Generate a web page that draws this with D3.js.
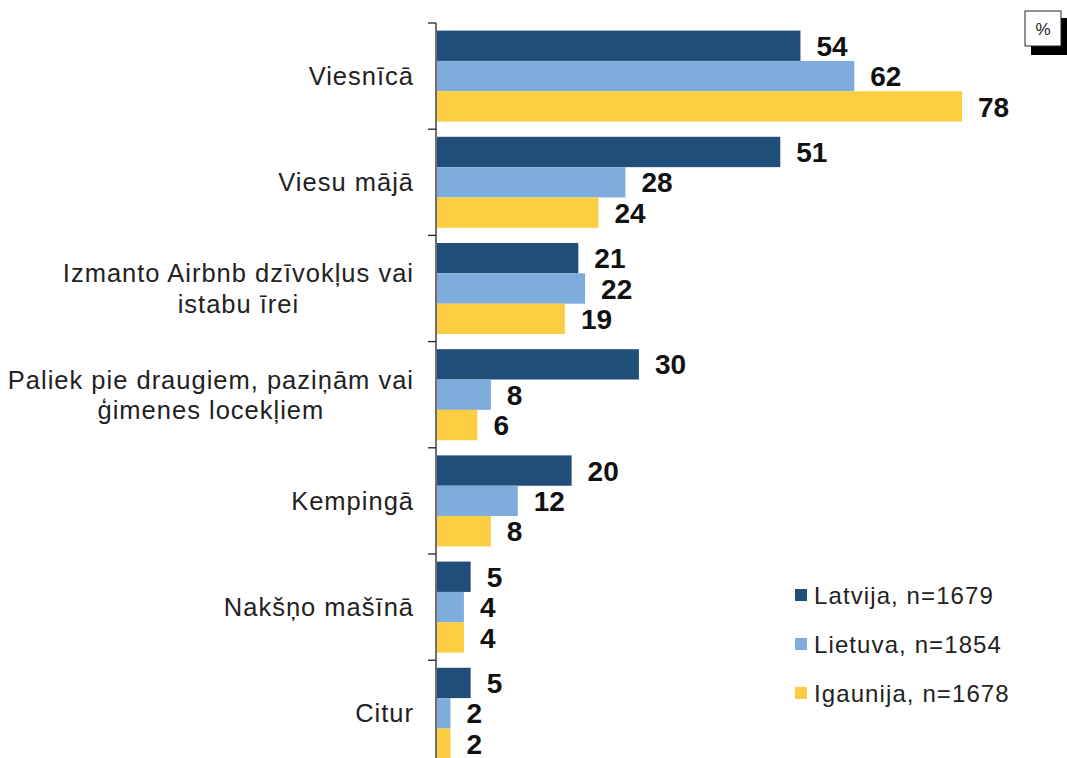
<!DOCTYPE html>
<html><head><meta charset="utf-8">
<script src="https://cdn.jsdelivr.net/npm/d3@7"></script>
<style>body{margin:0;background:#fff}svg{display:block}</style>
</head><body>
<svg id="c" width="1067" height="758"></svg>
<script>
const categories = [
  ["Viesnīcā"],
  ["Viesu mājā"],
  ["Izmanto Airbnb dzīvokļus vai", "istabu īrei"],
  ["Paliek pie draugiem, paziņām vai", "ģimenes locekļiem"],
  ["Kempingā"],
  ["Nakšņo mašīnā"],
  ["Citur"]
];
const seriesNames = ["Latvija, n=1679", "Lietuva, n=1854", "Igaunija, n=1678"];
const latvija = [54, 51, 21, 30, 20, 5, 5];
const lietuva = [62, 28, 22, 8, 12, 4, 2];
const igaunija = [78, 24, 19, 6, 8, 4, 2];
const colors = ["#1f4e79", "#7eacdc", "#fbcd41"];
const series = [latvija, lietuva, igaunija];

const FONT = "Liberation Sans, Arial, sans-serif";
const svg = d3.select("#c");
const x0 = 437;
const x = d3.scaleLinear().domain([0, 78]).range([x0, 962]);
const y = d3.scaleBand().domain(d3.range(categories.length)).range([23, 23 + 7 * 106.2]).paddingInner(0).paddingOuter(0);
const inner = d3.scaleBand().domain(d3.range(3)).range([0, y.bandwidth()]).paddingInner(0).paddingOuter(0.25);

// bars
categories.forEach((c, i) => {
  const g = svg.append("g").attr("transform", `translate(0,${y(i)})`);
  series.forEach((s, k) => {
    g.append("rect").attr("x", x0).attr("y", inner(k))
      .attr("width", x(s[i]) - x0).attr("height", inner.bandwidth())
      .attr("fill", colors[k]);
    g.append("text").attr("x", x(s[i]) + 16).attr("y", inner(k) + inner.bandwidth() / 2)
      .attr("dy", "0.36em").attr("font-family", FONT)
      .attr("font-size", 28).attr("font-weight", "bold").attr("fill", "#111")
      .text(s[i]);
  });
});

// axis
const ag = svg.append("g").attr("transform", `translate(436,0)`);
ag.append("line").attr("x1", 0).attr("x2", 0).attr("y1", 23).attr("y2", 758).attr("stroke", "#222").attr("stroke-width", 1.3);
d3.range(categories.length + 1).forEach(i => {
  const yy = 23 + i * y.step();
  ag.append("line").attr("x1", -8).attr("x2", 0).attr("y1", yy).attr("y2", yy).attr("stroke", "#222").attr("stroke-width", 1.3);
});

// category labels
categories.forEach((lines, i) => {
  const cy = y(i) + y.bandwidth() / 2;
  const g = svg.append("g");
  const lh = 30.5;
  const texts = lines.map((l, j) => g.append("text")
    .attr("y", cy + (j - (lines.length - 1) / 2) * lh).attr("dy", "0.36em")
    .attr("font-family", FONT).attr("font-size", 25.5).attr("letter-spacing", "1px")
    .attr("fill", "#222").attr("text-anchor", "middle").text(l));
  const maxW = d3.max(texts, t => t.node().getComputedTextLength());
  texts.forEach(t => t.attr("x", 414 - maxW / 2));
});

// legend
seriesNames.forEach((n, k) => {
  const ly = 595 + k * 49;
  svg.append("rect").attr("x", 795).attr("y", ly - 6).attr("width", 12).attr("height", 12).attr("fill", colors[k]);
  svg.append("text").attr("x", 814).attr("y", ly).attr("dy", "0.36em")
    .attr("font-family", FONT).attr("font-size", 24).attr("letter-spacing", "1.1px")
    .attr("fill", "#222").text(n);
});

// % box
svg.append("rect").attr("x", 1031).attr("y", 18).attr("width", 37).attr("height", 37).attr("fill", "#000");
svg.append("rect").attr("x", 1025).attr("y", 11).attr("width", 36).attr("height", 35).attr("fill", "#fff").attr("stroke", "#222").attr("stroke-width", 1);
svg.append("text").attr("x", 1043).attr("y", 29).attr("dy", "0.36em").attr("text-anchor", "middle")
  .attr("font-family", FONT).attr("font-size", 17).attr("fill", "#222").text("%");
</script>
</body></html>
